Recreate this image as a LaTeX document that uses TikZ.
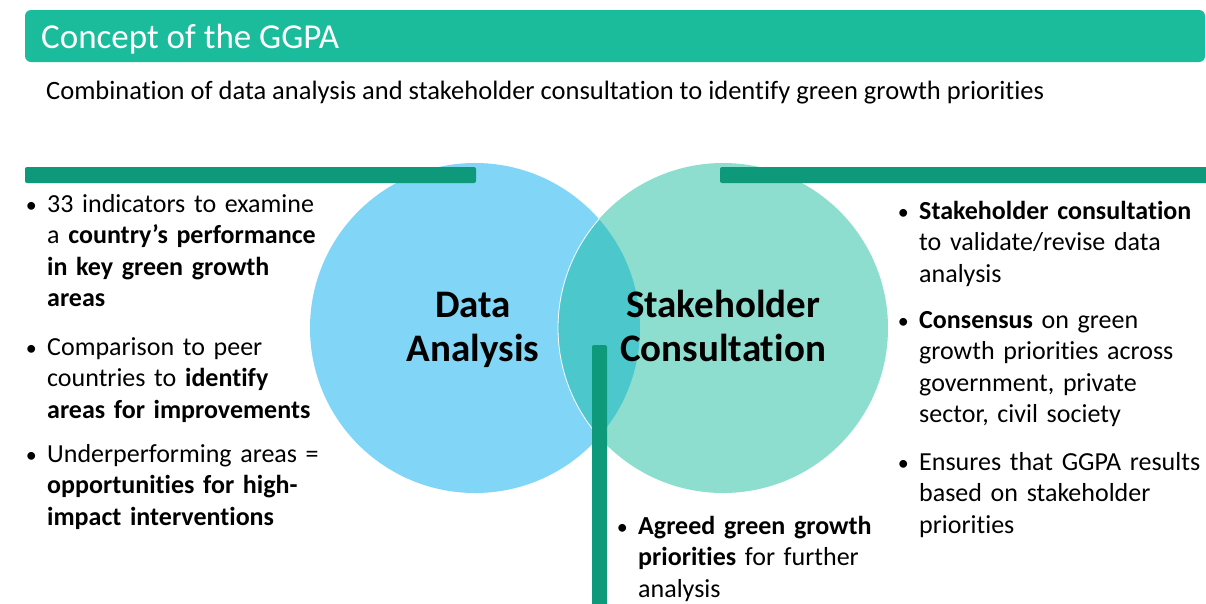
\documentclass[tikz,border=0pt]{standalone}
\usepackage{fontspec}
\setmainfont{Carlito}[Ligatures={NoCommon}]
\usetikzlibrary{positioning}
\definecolor{hdrgreen}{RGB}{26,188,156}
\definecolor{bargreen}{RGB}{14,154,122}
\definecolor{dablue}{RGB}{129,213,247}
\definecolor{scgreen}{RGB}{142,222,208}
\definecolor{lapcyan}{RGB}{76,200,204}
\tikzset{
	bar/.style={fill=bargreen, rounded corners=2pt},
	item/.style={anchor=base west, inner sep=0pt, text width=300pt, align=left, font=\fontsize{26}{31.6}\selectfont},
	dot/.style={anchor=base, inner sep=0pt, font=\fontsize{22}{31.6}\selectfont},
	big/.style={anchor=base, inner sep=0pt, text width=260pt, align=center, font=\fontsize{39}{44.5}\selectfont\bfseries},
}

\begin{document}
\begin{tikzpicture}[x=1pt, y=-1pt]
			%%%%% START %%%%%
			\useasboundingbox (0, 0) rectangle (1206, 603);
			
			\fill[hdrgreen, rounded corners=6pt] (25, 10) rectangle (1205, 62);
			\node[anchor=base west, inner sep=0pt, white, font=\fontsize{35}{40}\selectfont] (title) at (41, 48) {Concept of the GGPA};
			\node[anchor=base west, inner sep=0pt, font=\fontsize{26.5}{30}\selectfont] (sub) at (46, 99) {Combination of data analysis and stakeholder consultation to identify green growth priorities};
			
			\node[circle, minimum size=330pt, inner sep=0pt, fill=dablue] (da) at (475, 328) {};
			\node[circle, minimum size=330pt, inner sep=0pt, fill=scgreen] (sc) at (723, 328) {};
			\begin{scope}
				\clip (da.center) circle (165);
				\fill[lapcyan] (sc.center) circle (165);
				\draw[white, line width=0.8pt] (sc.center) circle (165);
			\end{scope}
			
			\fill[bar] (25, 167) rectangle (476, 183);
			\fill[bar] (720, 167) rectangle (1215, 183);
			\fill[bar] (592, 345) rectangle (607, 610);
			
			\node[big] (dalabel) at (473, 317) {Data\\Analysis};
			\node[big] (sclabel) at (723, 317) {Stakeholder\\Consultation};
			
			%%%%% LEFT %%%%%
			\node[item] (l1) at (47, 212) {33 indicators to examine\\a \textbf{country’s performance}\\\textbf{in key green growth}\\\textbf{areas}};
			\node[item] (l2) at (47, 355) {Comparison to peer\\countries to \textbf{identify}\\\textbf{areas for improvements}};
			\node[item] (l3) at (47, 462) {Underperforming areas =\\\textbf{opportunities for high-}\\\textbf{impact interventions}};
			
			%%%%% RIGHT %%%%%
			\node[item] (r1) at (919, 219) {\textbf{Stakeholder consultation}\\to validate/revise data\\analysis};
			\node[item] (r2) at (919, 328) {\textbf{Consensus} on green\\growth priorities across\\government, private\\sector, civil society};
			\node[item] (r3) at (919, 470) {Ensures that GGPA results\\based on stakeholder\\priorities};
			
			%%%%% BOTTOM %%%%%
			\node[item] (b1) at (638, 534) {\textbf{Agreed green growth}\\\textbf{priorities} for further\\analysis};
			
			\foreach \n in {l1, l2, l3, r1, r2, r3, b1}
				\node[dot, left=10pt of \n.base west, anchor=base east] {\textbullet};
			%%%%% END %%%%%
\end{tikzpicture}
\end{document}
